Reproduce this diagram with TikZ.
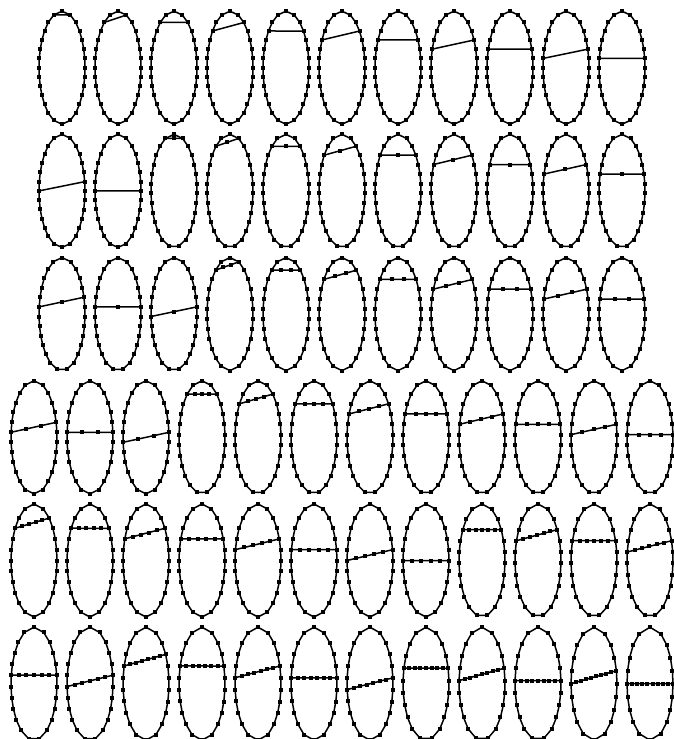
\documentclass[tikz,border=0pt]{standalone}
\usetikzlibrary{calc,decorations.markings}
\newcount\thetano
\tikzset{
  vtx/.style={rectangle, fill=black, inner sep=0pt, minimum size=4pt},
  thetaedge/.style={line width=1.5pt, line join=round},
}

\begin{document}
\begin{tikzpicture}[x=1pt,y=1pt]
\useasboundingbox (0,0) rectangle (673,-739);
\global\thetano=0
% theta graphs: chord path p, arcs q and r, p+q+r=29
\foreach \p in {1,...,9}{
  \pgfmathtruncatemacro\qlo{max(\p,2)}
  \pgfmathtruncatemacro\qhi{floor((29-\p)/2)}
  \foreach \q in {\qlo,...,\qhi}{
    \pgfmathtruncatemacro\n{\the\thetano}
    \pgfmathtruncatemacro\row{\n<33 ? floor(\n/11) : 3+floor((\n-33)/12)}
    \pgfmathtruncatemacro\col{\n<33 ? mod(\n,11) : mod(\n-33,12)}
    \pgfmathsetmacro\cx{(\n<33 ? 62 : 34)+56*\col}
    \pgfmathsetmacro\cy{-67.7-123.2*\row}
    \pgfmathtruncatemacro\m{29-\p}
    \pgfmathtruncatemacro\mlast{\m-1}
    \pgfmathsetmacro\mstep{1/\m}
    \pgfmathsetmacro\mend{1-0.5/\m}
    % cycle vertices, v0 on top, counting to the left
    \path[decoration={markings, mark=between positions 0 and \mend step \mstep with {
        \pgfmathtruncatemacro\vi{\pgfkeysvalueof{/pgf/decoration/mark info/sequence number}-1}
        \coordinate (v\vi);}}, decorate]
      (\cx,\cy+56.5) arc[start angle=90, end angle=450, x radius=23, y radius=56.5];
    \draw[thetaedge] (v0) \foreach \k in {1,...,\mlast}{ -- (v\k)} -- cycle;
    % chord
    \pgfmathtruncatemacro\vr{\m-floor(\q/2)}
    \pgfmathtruncatemacro\vl{ceil(\q/2)}
    \draw[thetaedge] (v\vr) -- (v\vl);
    \foreach \k in {0,...,\mlast} \node[vtx] at (v\k) {};
    \ifnum\p>1
      \pgfmathtruncatemacro\plast{\p-1}
      \foreach \j in {1,...,\plast}
        \node[vtx] (c\j) at ($(v\vr)!\j/\p!(v\vl)$) {};
    \fi
    \global\advance\thetano by 1
  }
}
\end{tikzpicture}
\end{document}
